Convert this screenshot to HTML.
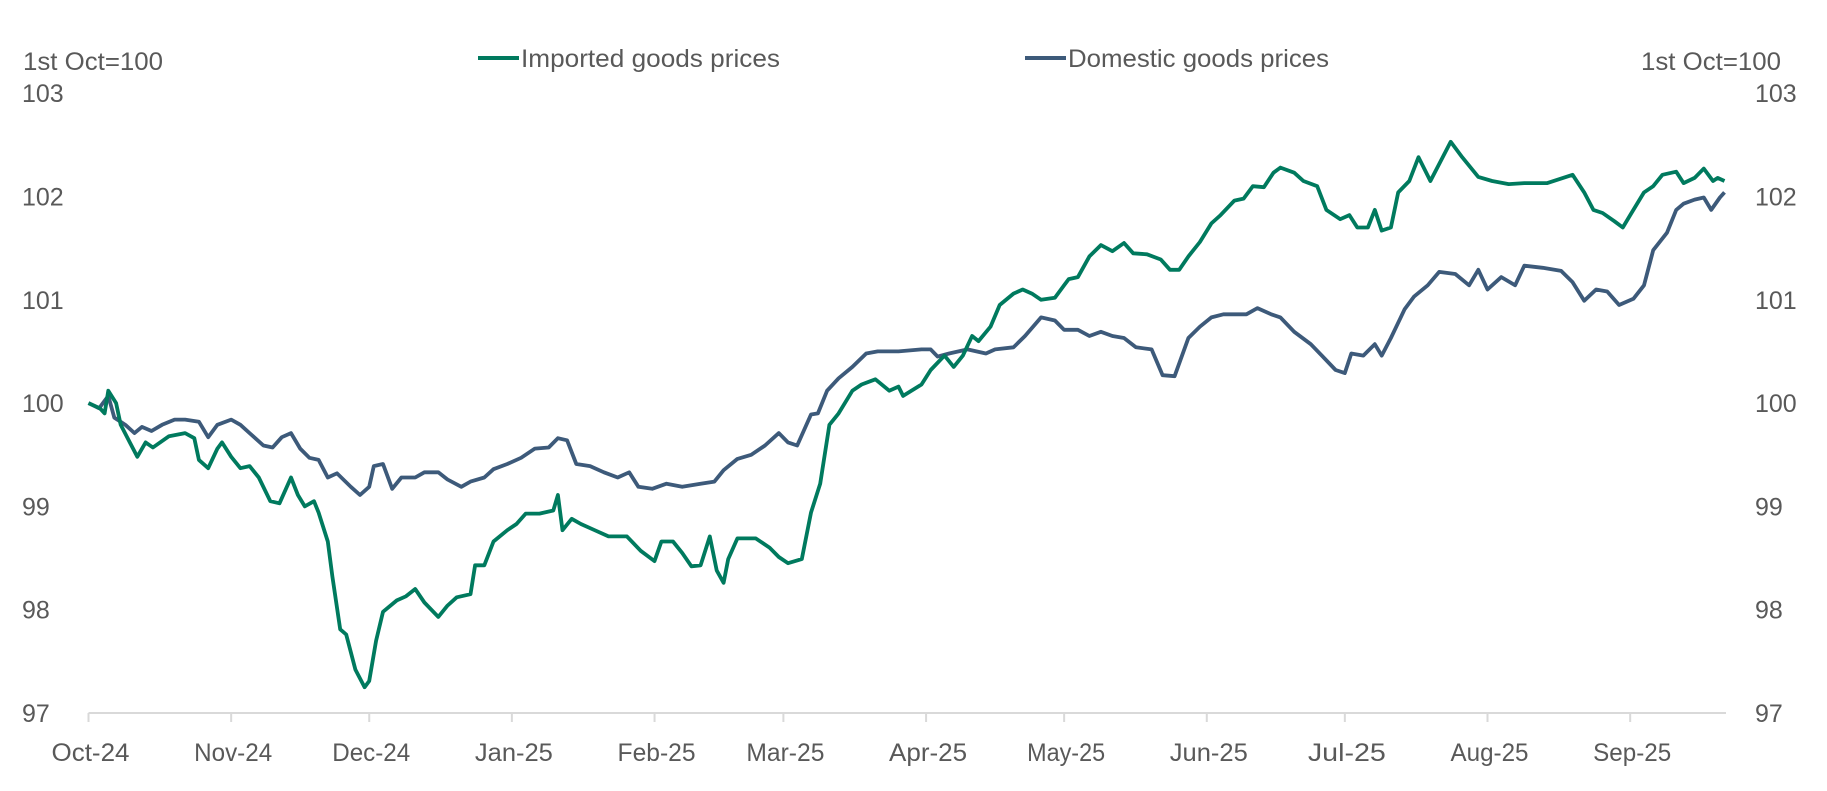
<!DOCTYPE html>
<html><head><meta charset="utf-8"><style>
html,body{margin:0;padding:0;background:#fff;}
svg{display:block;font-family:"Liberation Sans",sans-serif;}
</style></head><body>
<svg id="chart" width="1827" height="791" viewBox="0 0 1827 791" xmlns="http://www.w3.org/2000/svg">
<text x="23" y="70" font-size="25" fill="#595959" textLength="140" lengthAdjust="spacingAndGlyphs">1st Oct=100</text>
<text x="1781" y="70" font-size="25" fill="#595959" text-anchor="end" textLength="140" lengthAdjust="spacingAndGlyphs">1st Oct=100</text>
<g>
<line x1="478" y1="58" x2="519" y2="58" stroke="#007a5e" stroke-width="4"/>
<text x="521" y="67" font-size="25" fill="#595959" textLength="259" lengthAdjust="spacingAndGlyphs">Imported goods prices</text>
<line x1="1025" y1="58" x2="1066" y2="58" stroke="#3d5a7a" stroke-width="4"/>
<text x="1068" y="67" font-size="25" fill="#595959" textLength="261" lengthAdjust="spacingAndGlyphs">Domestic goods prices</text>
</g>
<g id="axes"></g>
<g id="series"></g>
</svg>
<script>
const monthLabels=["Oct-24","Nov-24","Dec-24","Jan-25","Feb-25","Mar-25","Apr-25","May-25","Jun-25","Jul-25","Aug-25","Sep-25"];
const monthDays=[0,31,61,92,123,151,182,212,243,273,304,335];
const yTicks=[97,98,99,100,101,102,103];
const importedDays=[0,2.5,3.5,4.3,6,7,10.6,12.4,14,17.5,21,23,24,26,28,29,31,33,35,37,39.5,41.5,44,45.5,47,49,50,52,53,54.7,56,58,60,61,62.5,64,67,69,71,73,76,78,80,83,84,86,88,91,93,95,98,101,102,103,105,107,110,113,117,120,123,124.5,127,129,131,133,135,136.5,138,139,141,143,145,148,150,152,155,157,159,161,163,166,168,171,174,176,177,181,183,186,188,190,192,193.4,196,198,201,203,205,207,210,212,213,215,217.5,220,222.5,225,227,230,233,235,237,239,241.5,244,246,249,251,253,255.4,257.5,259,262,264,267,269,272,274,275.7,278,279.5,281,283,284.6,287,289,291.6,296,298.5,302,305,308.6,312,317,322.5,325,327,329,331.6,333.4,335,338,340,342,345,346.6,349,351,353,354,355.5];
const importedValues=[100,99.95,99.9,100.12,100,99.79,99.48,99.62,99.57,99.68,99.71,99.66,99.45,99.37,99.56,99.62,99.48,99.37,99.39,99.28,99.05,99.03,99.28,99.11,99.0,99.05,98.94,98.66,98.32,97.81,97.76,97.42,97.25,97.31,97.7,97.98,98.09,98.13,98.2,98.07,97.93,98.04,98.12,98.15,98.43,98.43,98.66,98.77,98.83,98.93,98.93,98.96,99.11,98.77,98.88,98.83,98.77,98.71,98.71,98.57,98.47,98.66,98.66,98.55,98.42,98.43,98.71,98.38,98.26,98.49,98.69,98.69,98.69,98.6,98.51,98.45,98.49,98.94,99.22,99.79,99.9,100.12,100.18,100.23,100.12,100.16,100.07,100.18,100.32,100.46,100.35,100.46,100.65,100.6,100.74,100.95,101.06,101.1,101.06,101.0,101.02,101.14,101.2,101.22,101.42,101.53,101.47,101.55,101.45,101.44,101.39,101.29,101.29,101.42,101.56,101.74,101.82,101.96,101.98,102.1,102.09,102.23,102.28,102.23,102.15,102.1,101.87,101.78,101.82,101.7,101.7,101.87,101.67,101.7,102.04,102.15,102.38,102.15,102.53,102.38,102.19,102.15,102.12,102.13,102.13,102.21,102.04,101.87,101.84,101.76,101.7,101.82,102.04,102.1,102.21,102.24,102.13,102.18,102.27,102.15,102.18,102.15];
const domesticDays=[0,2.3,4.3,5.6,8,10,11.6,13.7,16,18.7,21,24,26,28,31,33,35,38,40,42,44,46,48,50,52,54,57,59,61,62,64,66,68,71,73,76,78,81,83,86,88,91,94,97,100,102,104,106,109,112,115,117.5,119.5,122.5,125.6,129,133,136,138,141,144,147,150,152,154,157,158.5,160.5,163,166,169,171.5,176,181,183,184.5,187,191,195,197,201,203.5,207,210,212,215,217.5,220,222.5,225,227.6,231,233.4,236,239,241.5,244,246.6,251.6,254,257,259,262,265.6,268,271,273,274.4,277,279.5,281,283,286,288,291,293.5,297,300,302,304,307,310,312,316,320,322.5,325,327.6,330,332.6,335.7,338,340,343,345,346.6,349,351,352.6,354.5,355.5];
const domesticValues=[100,99.95,100.07,99.86,99.79,99.71,99.77,99.73,99.79,99.84,99.84,99.82,99.67,99.79,99.84,99.79,99.71,99.59,99.57,99.67,99.71,99.56,99.47,99.45,99.28,99.32,99.19,99.11,99.19,99.39,99.41,99.17,99.28,99.28,99.33,99.33,99.26,99.19,99.24,99.28,99.36,99.41,99.47,99.56,99.57,99.66,99.64,99.41,99.39,99.33,99.28,99.33,99.19,99.17,99.22,99.19,99.22,99.24,99.35,99.46,99.5,99.59,99.71,99.62,99.59,99.89,99.9,100.12,100.24,100.35,100.48,100.5,100.5,100.52,100.52,100.45,100.48,100.52,100.48,100.52,100.54,100.65,100.83,100.8,100.71,100.71,100.65,100.69,100.65,100.63,100.54,100.52,100.27,100.26,100.63,100.74,100.83,100.86,100.86,100.92,100.86,100.83,100.69,100.57,100.46,100.32,100.29,100.48,100.46,100.57,100.46,100.63,100.91,101.03,101.14,101.27,101.25,101.14,101.29,101.1,101.22,101.14,101.33,101.31,101.28,101.17,100.99,101.1,101.08,100.95,101.01,101.14,101.48,101.65,101.87,101.93,101.97,101.99,101.87,101.99,102.04];

const NS="http://www.w3.org/2000/svg";
const X0=88.5, PXD=4.602, Y0=713, PXV=103.3, XEND=1726;
function xScale(d){return X0+d*PXD;}
function yScale(v){return Y0-(v-97)*PXV;}
function mk(tag,attrs){const e=document.createElementNS(NS,tag);for(const k in attrs)e.setAttribute(k,attrs[k]);return e;}
const axes=document.getElementById('axes');
const base=mk('line',{x1:X0,y1:Y0,x2:XEND,y2:Y0,stroke:'#d9d9d9','stroke-width':2});


axes.appendChild(base);
monthDays.forEach((d,i)=>{
  const t=mk('line',{x1:xScale(d),y1:Y0,x2:xScale(d),y2:Y0+9,stroke:'#d9d9d9','stroke-width':2});
  
  
  axes.appendChild(t);
  const l=mk('text',{x:xScale(d)+2,y:761,'font-size':25,fill:'#595959','text-anchor':'middle',textLength:78,lengthAdjust:'spacingAndGlyphs'});
  l.textContent=monthLabels[i];
  
  
  axes.appendChild(l);
});
yTicks.forEach(v=>{
  const l=mk('text',{x:22,y:yScale(v)+9,'font-size':25,fill:'#595959'});
  l.textContent=v;
  
  
  axes.appendChild(l);
  const r=mk('text',{x:1755,y:yScale(v)+9,'font-size':25,fill:'#595959'});
  r.textContent=v;
  
  
  axes.appendChild(r);
});
const series=document.getElementById('series');
function line(days,vals,color,name){
  const d=days.map((dd,i)=>(i?'L':'M')+xScale(dd).toFixed(1)+','+yScale(vals[i]).toFixed(1)).join(' ');
  const p=mk('path',{d:d,fill:'none',stroke:color,'stroke-width':3.8,'stroke-linejoin':'round'});
  
  
  series.appendChild(p);
}
line(domesticDays,domesticValues,'#3d5a7a','domestic-goods-line');
line(importedDays,importedValues,'#007a5e','imported-goods-line');
</script>
</body></html>
